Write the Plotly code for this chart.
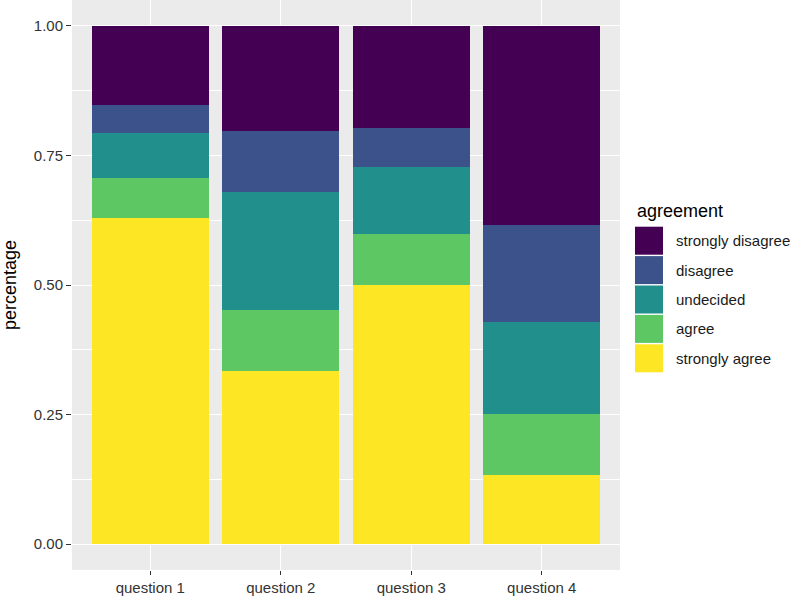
import plotly.graph_objects as go

questions = ["question 1", "question 2", "question 3", "question 4"]
agreement_levels = ["strongly disagree", "disagree", "undecided", "agree", "strongly agree"]
strongly_agree = [0.630, 0.334, 0.500, 0.133]
agree = [0.076, 0.117, 0.099, 0.119]
undecided = [0.088, 0.229, 0.129, 0.177]
disagree = [0.054, 0.117, 0.075, 0.186]
strongly_disagree = [0.152, 0.203, 0.197, 0.385]
y_ticks = [0, 0.25, 0.5, 0.75, 1.0]
y_tick_labels = ["0.00", "0.25", "0.50", "0.75", "1.00"]

level_colors = {
    "strongly disagree": "#440154",
    "disagree": "#3B528B",
    "undecided": "#21908C",
    "agree": "#5DC863",
    "strongly agree": "#FDE725",
}
series = {
    "strongly agree": strongly_agree,
    "agree": agree,
    "undecided": undecided,
    "disagree": disagree,
    "strongly disagree": strongly_disagree,
}

FONT = "Liberation Sans, Arial, sans-serif"
W, H = 794, 596
L, R, T, B = 72, 174, 0, 26
PW, PH = W - L - R, H - T - B

fig = go.Figure()
for level in ["strongly agree", "agree", "undecided", "disagree", "strongly disagree"]:
    fig.add_trace(go.Bar(
        x=questions, y=series[level], name=level,
        marker=dict(color=level_colors[level], line=dict(width=0)),
        showlegend=False,
    ))

def px_x(px):
    return (px - L) / PW

def px_y(py):
    return (H - B - py) / PH

shapes = []
annotations = []
annotations.append(dict(
    x=px_x(635), y=px_y(211), xref="paper", yref="paper",
    text="agreement", showarrow=False, xanchor="left", yanchor="middle",
    font=dict(family=FONT, size=18, color="#000000"),
))
for i, level in enumerate(agreement_levels):
    top = 226.7 + i * 29.4
    shapes.append(dict(
        type="rect", xref="paper", yref="paper",
        x0=px_x(635), x1=px_x(663), y0=px_y(top + 28), y1=px_y(top),
        fillcolor=level_colors[level], line=dict(width=0),
    ))
    annotations.append(dict(
        x=px_x(674), y=px_y(top + 14), xref="paper", yref="paper",
        text=level, showarrow=False, xanchor="left", yanchor="middle",
        font=dict(family=FONT, size=15, color="#1a1a1a"),
    ))

fig.update_layout(
    width=W, height=H,
    margin=dict(l=L, r=R, t=T, b=B, pad=0),
    barmode="stack", bargap=0.1,
    paper_bgcolor="white", plot_bgcolor="#EBEBEB",
    font=dict(family=FONT, size=15, color="#333333"),
    shapes=shapes, annotations=annotations,
    showlegend=False,
)
fig.update_xaxes(
    range=[-0.6, 3.6], showgrid=True, gridcolor="white", gridwidth=1.1,
    ticks="outside", ticklen=4, tickwidth=1, tickcolor="#333333",
    tickfont=dict(family=FONT, size=15, color="#333333"),
    zeroline=False, showline=False, fixedrange=True,
)
fig.update_yaxes(
    range=[-0.05, 1.05], tickvals=y_ticks, ticktext=y_tick_labels,
    showgrid=True, gridcolor="white", gridwidth=1.1,
    minor=dict(tickvals=[0.125, 0.375, 0.625, 0.875], showgrid=True, gridcolor="white", gridwidth=0.5, ticks=""),
    ticks="outside", ticklen=5, tickwidth=1, tickcolor="#333333",
    tickfont=dict(family=FONT, size=15, color="#333333"),
    title=dict(text="percentage", font=dict(family=FONT, size=18, color="#000000"), standoff=12),
    zeroline=False, showline=False, fixedrange=True,
)

fig.write_html(
    "out.html",
    config={"displayModeBar": False},
    post_script="document.body.style.margin='0';document.body.style.overflow='hidden';",
)
